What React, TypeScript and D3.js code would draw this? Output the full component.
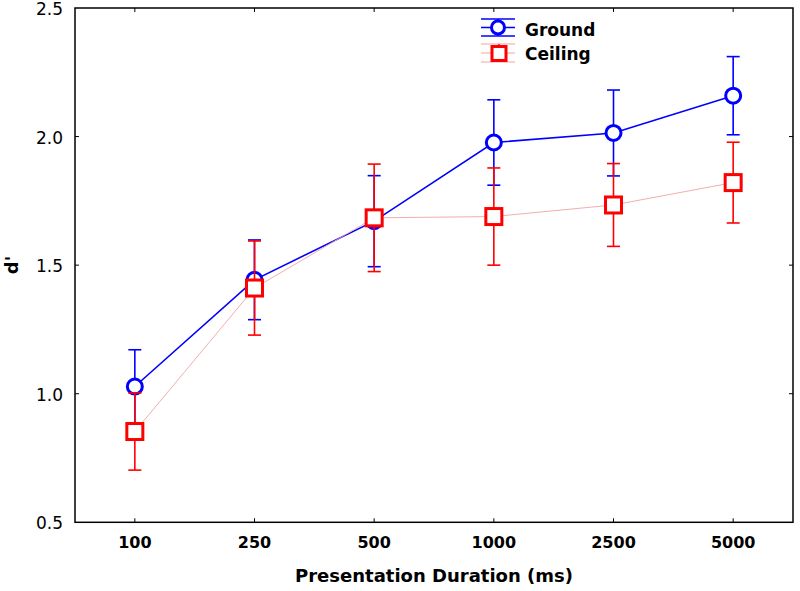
import React from "react";
import * as d3 from "d3";

const durations = ["100", "250", "500", "1000", "2500", "5000"];
const groundMean = [1.028, 1.443, 1.671, 1.977, 2.014, 2.159];
const groundErr = [0.143, 0.155, 0.177, 0.166, 0.167, 0.152];
const ceilingMean = [0.853, 1.411, 1.684, 1.689, 1.734, 1.821];
const ceilingErr = [0.15, 0.183, 0.209, 0.189, 0.161, 0.157];
const yTicks = [0.5, 1.0, 1.5, 2.0, 2.5];
const seriesNames = ["Ground", "Ceiling"];

const W = 800;
const H = 591;
const L = 75;
const R = 793;
const T = 8;
const B = 522.3;

export default function App() {
  const x = d3.scaleBand<string>().domain(durations).range([L, R]);
  const y = d3.scaleLinear().domain([0.5, 2.5]).range([B, T]);
  const cx = (d: string) => (x(d) as number) + x.bandwidth() / 2;

  const line = d3
    .line<number>()
    .x((_, i) => cx(durations[i]))
    .y((v) => y(v));

  const blue = "#0000ff";
  const red = "#ff0000";
  const pink = "#f2a4a4";
  const capW = 6.5;
  const font = "DejaVu Sans, Verdana, sans-serif";

  const errBars = (means: number[], errs: number[], color: string) =>
    means.map((m, i) => {
      const px = cx(durations[i]);
      const y1 = y(m + errs[i]);
      const y2 = y(m - errs[i]);
      return (
        <g key={i} stroke={color} strokeWidth={1.6}>
          <line x1={px} x2={px} y1={y1} y2={y2} />
          <line x1={px - capW} x2={px + capW} y1={y1} y2={y1} />
          <line x1={px - capW} x2={px + capW} y1={y2} y2={y2} />
        </g>
      );
    });

  return (
    <svg width={W} height={H} style={{ position: "absolute", left: 0, top: 0 }}>
      <rect x={0} y={0} width={W} height={H} fill="#fff" />
      {/* frame */}
      <rect x={L} y={T} width={R - L} height={B - T} fill="none" stroke="#000" strokeWidth={1.5} />
      {/* ticks */}
      {yTicks.slice(1, -1).map((t) => (
        <g key={t} stroke="#000" strokeWidth={1}>
          <line x1={L} x2={L + 4} y1={y(t)} y2={y(t)} />
          <line x1={R} x2={R - 4} y1={y(t)} y2={y(t)} />
        </g>
      ))}
      {durations.map((d) => (
        <g key={d} stroke="#000" strokeWidth={1}>
          <line x1={cx(d)} x2={cx(d)} y1={T} y2={T + 4} />
          <line x1={cx(d)} x2={cx(d)} y1={B} y2={B - 4} />
        </g>
      ))}
      {/* y tick labels */}
      {yTicks.map((t) => (
        <text key={t} x={63} y={y(t) + 7} textAnchor="end" fontFamily={font} fontSize={17} fill="#000">
          {t.toFixed(1)}
        </text>
      ))}
      {/* x tick labels */}
      {durations.map((d) => (
        <text key={d} x={cx(d)} y={548} textAnchor="middle" fontFamily={font} fontWeight="bold" fontSize={16} fill="#000">
          {d}
        </text>
      ))}
      <text x={(L + R) / 2} y={582} textAnchor="middle" fontFamily={font} fontWeight="bold" fontSize={18} fill="#000">
        Presentation Duration (ms)
      </text>
      <text transform="translate(18,265) rotate(-90)" textAnchor="middle" fontFamily={font} fontWeight="bold" fontSize={18} fill="#000">
        d'
      </text>

      {/* Ground series */}
      <path d={line(groundMean) || ""} fill="none" stroke={blue} strokeWidth={1.6} />
      {errBars(groundMean, groundErr, blue)}
      {groundMean.map((m, i) => (
        <circle key={i} cx={cx(durations[i])} cy={y(m)} r={7.5} fill="#fff" stroke={blue} strokeWidth={3} />
      ))}

      {/* Ceiling series */}
      <path d={line(ceilingMean) || ""} fill="none" stroke={pink} strokeWidth={0.9} />
      {errBars(ceilingMean, ceilingErr, red)}
      {ceilingMean.map((m, i) => (
        <rect key={i} x={cx(durations[i]) - 8} y={y(m) - 8} width={16} height={16} fill="#fff" stroke={red} strokeWidth={3} />
      ))}

      {/* legend */}
      <g>
        <line x1={481} x2={515} y1={19} y2={19} stroke={blue} strokeWidth={1.5} />
        <line x1={481} x2={515} y1={27.5} y2={27.5} stroke={blue} strokeWidth={1.5} />
        <line x1={481} x2={515} y1={36} y2={36} stroke={blue} strokeWidth={1.5} />
        <line x1={498} x2={498} y1={19} y2={36} stroke={blue} strokeWidth={1.5} />
        <circle cx={498} cy={27.5} r={6.5} fill="#fff" stroke={blue} strokeWidth={3} />
        <text x={525} y={36} fontFamily={font} fontWeight="bold" fontSize={17} fill="#000">
          {seriesNames[0]}
        </text>

        <line x1={481} x2={515} y1={44} y2={44} stroke={pink} strokeWidth={1.2} />
        <line x1={481} x2={515} y1={53} y2={53} stroke={pink} strokeWidth={1.2} />
        <line x1={481} x2={515} y1={62} y2={62} stroke={pink} strokeWidth={1.2} />
        <line x1={499} x2={499} y1={44} y2={62} stroke={red} strokeWidth={1.5} />
        <rect x={492} y={46.5} width={14} height={14} fill="#fff" stroke={red} strokeWidth={3} />
        <text x={525} y={59.5} fontFamily={font} fontWeight="bold" fontSize={17} fill="#000">
          {seriesNames[1]}
        </text>
      </g>
    </svg>
  );
}
